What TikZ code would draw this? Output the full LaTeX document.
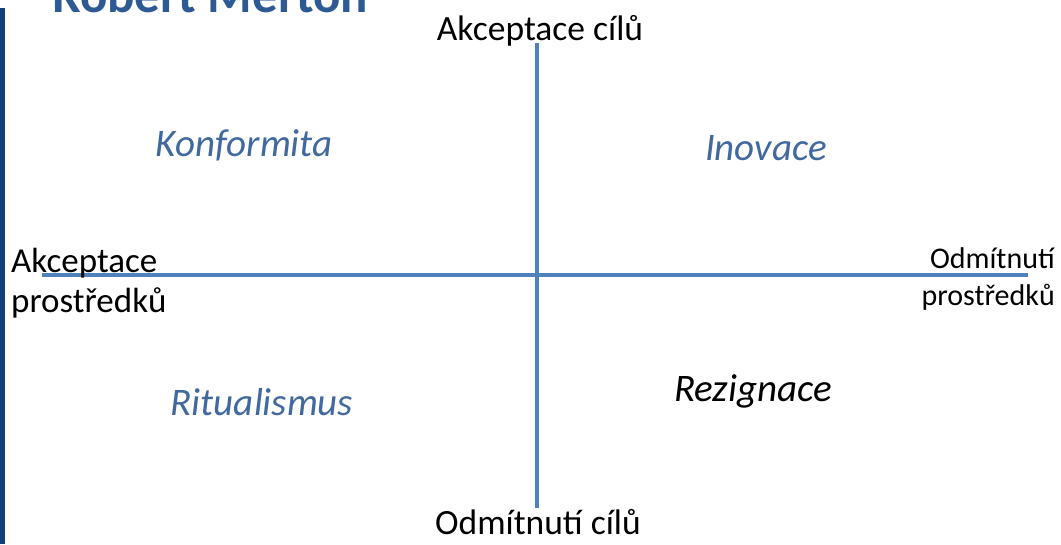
\documentclass[tikz,border=0pt]{standalone}
\usepackage{fontspec}
\setmainfont{Carlito}
\definecolor{axisblue}{HTML}{4F81BD}
\definecolor{labelblue}{HTML}{41689F}
\definecolor{titleblue}{HTML}{2E5A93}
\definecolor{barblue}{HTML}{123F7C}
\begin{document}
\begin{tikzpicture}[x=1pt,y=-1pt,
  axis/.style={draw=axisblue,line width=4pt},
  lbl/.style={inner sep=0pt,anchor=base,font=\fontsize{35.5}{36}\selectfont,text=black},
  quad/.style={inner sep=0pt,anchor=base,font=\fontsize{39}{40}\selectfont\itshape,text=labelblue}]
\useasboundingbox (0,0) rectangle (1061,544);
\clip (0,0) rectangle (1061,544);
\fill[white] (0,0) rectangle (1061,544);
\fill[barblue] (0,8) rectangle (5,544);
\node[anchor=base west,inner sep=0pt,font=\fontsize{51}{54}\selectfont\bfseries,text=titleblue] (title) at (52,12) {Robert Merton};
\coordinate (vtop) at (537,43);
\coordinate (vbot) at (537,508);
\coordinate (hl) at (42,275);
\coordinate (hr) at (1028,275);
\draw[axis] (vtop) -- (vbot);
\draw[axis] (hl) -- (hr);
\node[lbl] (top) at (540,40) {Akceptace cílů};
\node[lbl] (bot) at (538,534) {Odmítnutí cílů};
\node[lbl,anchor=base west,align=left,font=\fontsize{35}{40}\selectfont] (left) at (11,312) {Akceptace\\prostředků};
\node[lbl,anchor=base east,align=right,font=\fontsize{30}{37}\selectfont] (right) at (1055,305) {Odmítnutí\\prostředků};
\node[quad] (konf) at (244,156) {Konformita};
\node[quad] (inov) at (766,160) {Inovace};
\node[quad] (rit) at (262,415) {Ritualismus};
\node[quad,text=black] (rez) at (753,401) {Rezignace};
\end{tikzpicture}
\end{document}
